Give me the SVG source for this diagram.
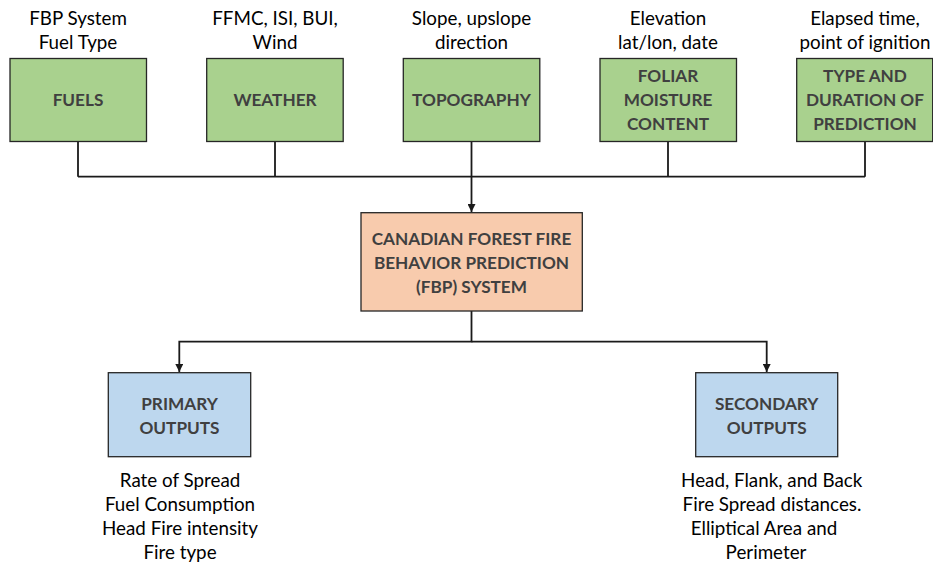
<svg xmlns="http://www.w3.org/2000/svg" width="933" height="562" viewBox="0 0 933 562">
  <style>
    .box { stroke: #262626; stroke-width: 1.3; }
    .in { fill: #A9D18E; }
    .core { fill: #F8CBAD; }
    .out { fill: #BDD7EE; }
    .title { font-family: Lato, "Open Sans", "Liberation Sans", sans-serif; font-weight: bold; font-size: 17.2px; fill: #404040; text-anchor: middle; }
    .note { font-family: Lato, "Open Sans", "Liberation Sans", sans-serif; font-size: 18.8px; fill: #000; text-anchor: middle; }
    .wire { fill: none; stroke: #1a1a1a; stroke-width: 1.8; }
  </style>
  <defs>
    <marker id="arrow" viewBox="0 0 8 8" refX="8" refY="4" markerWidth="8" markerHeight="8" markerUnits="userSpaceOnUse" orient="auto">
      <path d="M0,0 L8,4 L0,8 Z" fill="#1a1a1a"/>
    </marker>
  </defs>

  <rect width="933" height="562" fill="#ffffff"/>

  <!-- connectors -->
  <g id="connectors">
    <path class="wire" d="M78,141.5 V176.7 M275,141.5 V176.7 M668,141.5 V176.7 M865,141.5 V176.7 M78,176.7 H865"/>
    <path class="wire" d="M471.5,141.5 V212" marker-end="url(#arrow)"/>
    <path class="wire" d="M471.5,311 V341.7 H179.3 V372" marker-end="url(#arrow)"/>
    <path class="wire" d="M471.5,341.7 H766.7 V372" marker-end="url(#arrow)"/>
  </g>

  <!-- input nodes -->
  <g id="fuels">
    <text class="note" x="78" y="25">FBP System</text>
    <text class="note" x="78" y="49">Fuel Type</text>
    <rect class="box in" x="10" y="58.5" width="136.5" height="83"/>
    <text class="title" x="78" y="106">FUELS</text>
  </g>
  <g id="weather">
    <text class="note" x="275" y="25">FFMC, ISI, BUI,</text>
    <text class="note" x="275" y="49">Wind</text>
    <rect class="box in" x="206.7" y="58.5" width="136.5" height="83"/>
    <text class="title" x="275" y="106">WEATHER</text>
  </g>
  <g id="topography">
    <text class="note" x="471.5" y="25">Slope, upslope</text>
    <text class="note" x="471.5" y="49">direction</text>
    <rect class="box in" x="403.3" y="58.5" width="136.5" height="83"/>
    <text class="title" x="471.5" y="106">TOPOGRAPHY</text>
  </g>
  <g id="foliar-moisture">
    <text class="note" x="668" y="25">Elevation</text>
    <text class="note" x="668" y="49">lat/lon, date</text>
    <rect class="box in" x="600" y="58.5" width="136.5" height="83"/>
    <text class="title" x="668" y="82">FOLIAR</text>
    <text class="title" x="668" y="106">MOISTURE</text>
    <text class="title" x="668" y="130">CONTENT</text>
  </g>
  <g id="prediction-type">
    <text class="note" x="865" y="25">Elapsed time,</text>
    <text class="note" x="865" y="49">point of ignition</text>
    <rect class="box in" x="796.7" y="58.5" width="136" height="83"/>
    <text class="title" x="865" y="82">TYPE AND</text>
    <text class="title" x="865" y="106">DURATION OF</text>
    <text class="title" x="865" y="130">PREDICTION</text>
  </g>

  <!-- central system -->
  <g id="fbp-system">
    <rect class="box core" x="361" y="212.7" width="221.3" height="98.3"/>
    <text class="title" x="471.5" y="244.5">CANADIAN FOREST FIRE</text>
    <text class="title" x="471.5" y="268.5">BEHAVIOR PREDICTION</text>
    <text class="title" x="471.5" y="293">(FBP) SYSTEM</text>
  </g>

  <!-- outputs -->
  <g id="primary-outputs">
    <rect class="box out" x="108.3" y="372.7" width="142.4" height="84"/>
    <text class="title" x="179.5" y="410">PRIMARY</text>
    <text class="title" x="179.5" y="434">OUTPUTS</text>
    <text class="note" x="180" y="487">Rate of Spread</text>
    <text class="note" x="180" y="511">Fuel Consumption</text>
    <text class="note" x="180" y="535">Head Fire intensity</text>
    <text class="note" x="180" y="559">Fire type</text>
  </g>
  <g id="secondary-outputs">
    <rect class="box out" x="695.7" y="372.7" width="142" height="84"/>
    <text class="title" x="766.7" y="410">SECONDARY</text>
    <text class="title" x="766.7" y="434">OUTPUTS</text>
    <text class="note" x="771.7" y="487">Head, Flank, and Back</text>
    <text class="note" x="772" y="511">Fire Spread distances.</text>
    <text class="note" x="764" y="535">Elliptical Area and</text>
    <text class="note" x="766" y="559">Perimeter</text>
  </g>
</svg>
